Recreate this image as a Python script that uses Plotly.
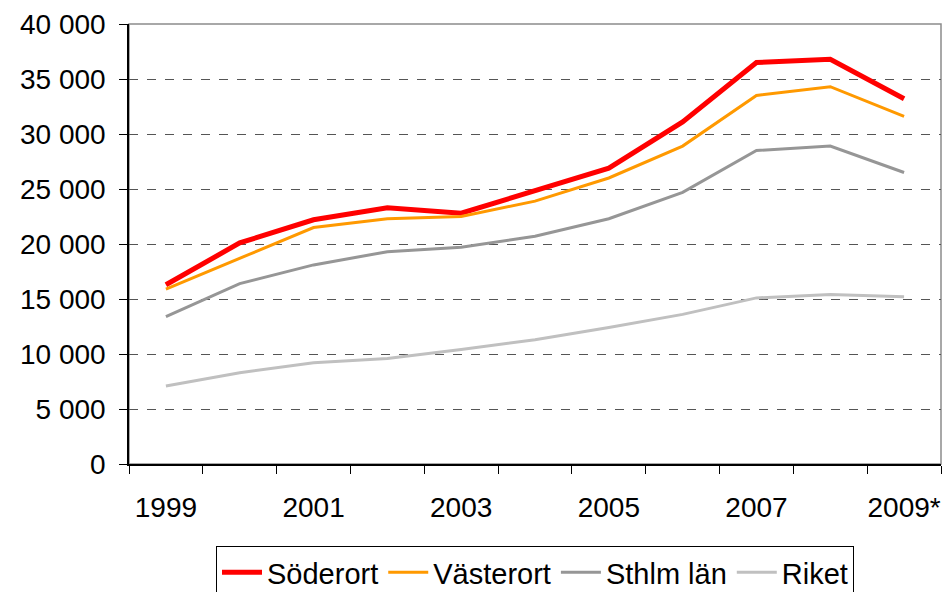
import plotly.graph_objects as go

years = [1999, 2000, 2001, 2002, 2003, 2004, 2005, 2006, 2007, 2008, 2009]
tick_years = [1999, 2001, 2003, 2005, 2007, 2009]
tick_labels = ["1999", "2001", "2003", "2005", "2007", "2009*"]

soderort = [16300, 20100, 22200, 23300, 22800, 24900, 26900, 31100, 36500, 36800, 33200]
vasterort = [15900, 18700, 21500, 22300, 22500, 23900, 26000, 28900, 33500, 34300, 31600]
sthlm_lan = [13400, 16400, 18100, 19300, 19700, 20700, 22300, 24700, 28500, 28900, 26500]
riket = [7100, 8300, 9200, 9600, 10400, 11300, 12400, 13600, 15100, 15400, 15200]

series = [
    ("Söderort", soderort, "#FF0000", 5),
    ("Västerort", vasterort, "#FF9900", 3),
    ("Sthlm län", sthlm_lan, "#969696", 3),
    ("Riket", riket, "#C0C0C0", 3),
]

fig = go.Figure()
for name, vals, color, w in series:
    fig.add_trace(go.Scatter(x=years, y=vals, mode="lines", name=name,
                             line=dict(color=color, width=w)))

font = dict(family="Liberation Sans, Arial, sans-serif", size=28, color="black")
legend_font = dict(family="Liberation Sans, Arial, sans-serif", size=29, color="black")

fig.update_layout(
    width=947, height=592,
    margin=dict(l=129, r=6, t=24, b=128),
    paper_bgcolor="white", plot_bgcolor="white",
    font=font,
    separators=", ",
    showlegend=True,
    legend=dict(orientation="h", xanchor="center", x=0.5, yref="container",
                y=1 - 546 / 592, yanchor="top", bordercolor="black", borderwidth=1,
                font=legend_font, itemwidth=40, tracegroupgap=0),
    shapes=[dict(type="rect", xref="paper", yref="paper", x0=0, x1=1, y0=0, y1=1,
                 line=dict(color="#8c8c8c", width=1.5), layer="below")],
)

fig.update_xaxes(
    range=[1998.5, 2009.5], tickmode="array", tickvals=tick_years, ticktext=tick_labels,
    ticks="", showgrid=False, zeroline=False, automargin=False,
    showline=True, linecolor="black", linewidth=1.5,
    ticklabelstandoff=18,
    minor=dict(tickmode="array", tickvals=[1998.5 + i for i in range(12)],
               ticks="outside", ticklen=8, tickcolor="black", tickwidth=1, showgrid=False),
)
fig.update_yaxes(
    range=[0, 40000], tickmode="array", tickvals=list(range(0, 40001, 5000)),
    tickformat=",d", ticks="outside", ticklen=8, tickcolor="black", automargin=False,
    showline=True, linecolor="black", linewidth=1.5,
    showgrid=True, gridcolor="#555555", griddash="dash", gridwidth=1,
    zeroline=False, ticklabelstandoff=8,
)

fig.write_html("out.html", config={"displayModeBar": False},
               post_script="document.body.style.margin='0';document.body.style.overflow='hidden';")
